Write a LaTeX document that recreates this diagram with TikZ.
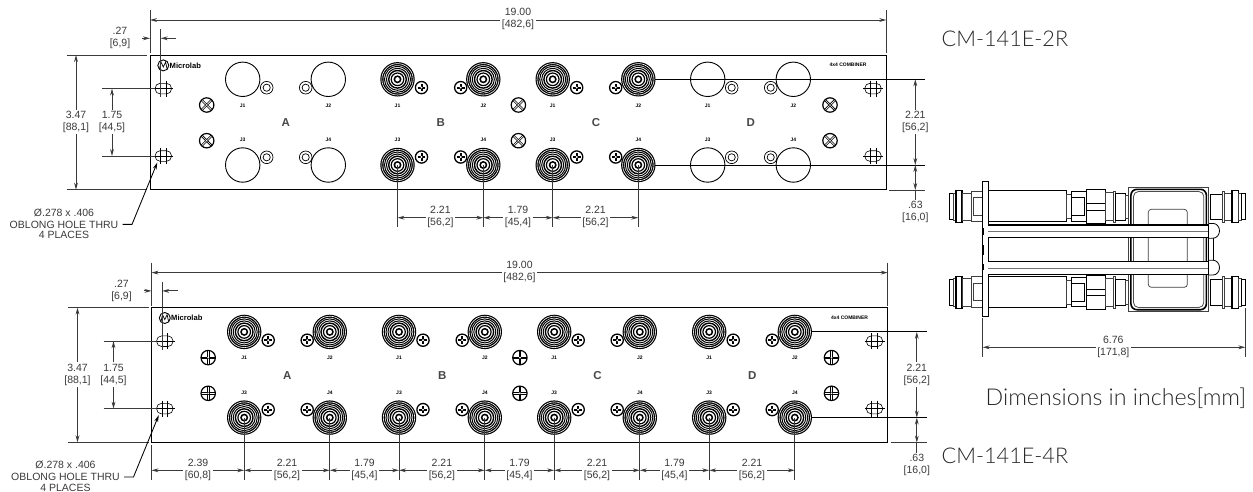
\documentclass[tikz,border=0pt]{standalone}
\usepackage{fontspec}
\setmainfont{Liberation Sans}
\newfontfamily\labfont{Lato Light}
\usetikzlibrary{arrows.meta}
\definecolor{dimc}{HTML}{3A3A3A}
\tikzset{
  dimline/.style={draw=dimc,line width=.85pt},
  dimarr/.style={dimline,{Stealth[length=7pt,width=3.8pt]}-{Stealth[length=7pt,width=3.8pt]}},
  tipend/.style={dimline,-{Stealth[length=7pt,width=3.8pt]}},
  dimtxt/.style={font=\fontsize{10.5}{12}\selectfont,text=dimc,align=center,fill=white,inner sep=1.5pt},
  plaintxt/.style={font=\fontsize{10.5}{12}\selectfont,text=dimc,align=center,inner sep=0pt},
  tinytxt/.style={font=\fontsize{5}{6}\bfseries\selectfont,inner sep=0pt},
  lettertxt/.style={font=\fontsize{11.5}{12}\bfseries\selectfont,text=black!72,inner sep=0pt},
  captxt/.style={font=\labfont\fontsize{21.7}{24}\selectfont,text=black!85,inner sep=0pt,anchor=west},
  panel/.style={draw=black,line width=.9pt},
  part/.style={draw=black,line width=.8pt,fill=white},
  thinpart/.style={draw=black!75,line width=.7pt,fill=white},
}
% coaxial connector
\newcommand{\coax}[2]{%
  \fill[black] (#1,#2) circle (17.2);
  \draw[white,line width=.6pt] (#1,#2) circle (15.7);
  \fill[white] (#1,#2) circle (14);
  \draw[black,line width=1pt] (#1,#2) circle (13);
  \draw[black,line width=1pt] (#1,#2) circle (11);
  \draw[black,line width=1.4pt] (#1,#2) circle (8.8);
  \draw[black,line width=1.2pt] (#1,#2) circle (6.3);
  \fill[black] (#1,#2) circle (4);
  \fill[white] (#1,#2) circle (2.2);
}
\newcommand{\plainc}[2]{\draw[black,line width=.9pt] (#1,#2) circle (17.2);}
\newcommand{\ringc}[2]{%
  \draw[black,line width=.7pt] (#1,#2) circle (6.3);
  \draw[black,line width=.7pt] (#1,#2) circle (3.6);
}
\newcommand{\smallscrew}[2]{%
  \draw[black,line width=1.3pt,fill=white] (#1,#2) circle (6.1);
  \draw[black,line width=2pt] (#1-3.8,#2) -- (#1+3.8,#2) (#1,#2-3.8) -- (#1,#2+3.8);
  \fill[white] (#1,#2) circle (1.1);
}
\newcommand{\bigscrew}[3]{%
  \begin{scope}[shift={(#1,#2)},rotate=#3]
  \draw[black,line width=1.2pt,fill=white] (0,0) circle (7.2);
  \draw[black,line width=.55pt] (-7,-.8) -- (7,-.8) (-7,.8) -- (7,.8) (-.8,-7) -- (-.8,7) (.8,-7) -- (.8,7);
  \fill[white] (0,0) circle (1);
  \end{scope}
}
\newcommand{\hole}[2]{%
  \draw[black,line width=.6pt,rounded corners=5pt] (#1-8.2,#2-5.3) rectangle (#1+8.2,#2+5.3);
  \draw[black,line width=.6pt] (#1-10,#2) -- (#1+10,#2) (#1-2.8,#2-8) -- (#1-2.8,#2+8) (#1+2.8,#2-8) -- (#1+2.8,#2+8);
}
% one panel with its common dimensions; #1 = rotation of the big screws
\newcommand{\panelbase}[1]{%
  \draw[panel] (150,55) rectangle (886.3,189.7);
  \hole{163.3}{88.6}\hole{163.3}{156}\hole{873}{88.6}\hole{873}{156}
  \foreach \sx in {206.7,518.4,830} {\bigscrew{\sx}{105}{#1}\bigscrew{\sx}{140.7}{#1}}
  \draw[black,line width=.9pt] (163.3,65.4) circle (5.5);
  \draw[black,line width=.7pt] (159.5,69) -- (161,62) -- (163.3,67) -- (165.6,62) -- (167.1,69);
  \node[anchor=west,font=\fontsize{7.6}{8}\bfseries\selectfont,inner sep=0pt] at (169.5,65.4) {Microlab};
  \node[tinytxt] at (848,65) {4x4 COMBINER};
  \node[lettertxt] at (285.7,123) {A};
  \node[lettertxt] at (440.7,122.7) {B};
  \node[lettertxt] at (596,122.7) {C};
  \node[lettertxt] at (750.7,123) {D};
  \foreach \cx/\ta/\tb in {242.7/J1/J3,328.3/J2/J4,397.5/J1/J3,483.3/J2/J4,552.7/J1/J3,638.3/J2/J4,707.7/J1/J3,793.3/J2/J4} {
    \node[tinytxt] at (\cx,105.3) {\ta};
    \node[tinytxt] at (\cx,140.2) {\tb};
  }
  % common dimensions
  \draw[dimline] (150,10) -- (150,53) (886.3,10) -- (886.3,53);
  \draw[dimarr] (150,20) -- (886.3,20);
  \node[dimtxt] at (518,19) {19.00\\{}[482,6]};
  \draw[dimline] (160.7,29) -- (160.7,97);
  \draw[tipend] (142,38.3) -- (150,38.3);
  \draw[tipend] (176,38.3) -- (160.7,38.3);
  \node[plaintxt] at (120,38) {.27\\{}[6,9]};
  \draw[dimline] (66.7,55) -- (147,55) (66.7,189.7) -- (147,189.7);
  \draw[dimarr] (76,55) -- (76,189.7);
  \node[dimtxt] at (76,122) {3.47\\{}[88,1]};
  \draw[dimline] (102,88.6) -- (155,88.6) (102,156) -- (155,156);
  \draw[dimarr] (112,88.6) -- (112,156);
  \node[dimtxt] at (112,122) {1.75\\{}[44,5]};
  \draw[dimline] (889,190) -- (925,190);
  \draw[dimarr] (915.3,79.3) -- (915.3,165);
  \draw[dimarr] (915.3,165) -- (915.3,190);
  \draw[dimline] (915.3,190) -- (915.3,200);
  \node[dimtxt] at (915.3,122) {2.21\\{}[56,2]};
  \node[plaintxt] at (915.3,212) {.63\\{}[16,0]};
  \draw[tipend,draw=black] (122.7,224.4) -- (132,224.4) -- (157.3,162.5);
  \node[plaintxt] at (64,223.7) {Ø.278 x .406\\OBLONG HOLE THRU\\[-1.5pt]4 PLACES};
}
\newcommand{\sideconn}{%
  \draw[part] (949,193.5) rectangle (953,219.5);
  \draw[thinpart] (953,193) rectangle (956,220.5);
  \draw[part,line width=1.2pt] (956,190.7) rectangle (962,222.7);
  \draw[thinpart] (962,193) rectangle (971,220.5);
  \draw[thinpart] (971,191) rectangle (983,221.7);
  \draw[thinpart] (973,197.7) rectangle (983,215);
  \draw[part] (988,190.7) rectangle (1066.7,221.7);
  \draw[thinpart] (1066.7,194.3) rectangle (1071,218.3);
  \draw[part] (1071,191.7) rectangle (1086.7,221);
  \draw[part] (1071,197.7) rectangle (1084.3,215.7);
  \draw[part,line width=1pt] (1086.7,189.3) rectangle (1105.7,223.7);
  \draw[black,line width=.8pt] (1086.7,203.3) -- (1105.7,203.3) (1086.7,210) -- (1105.7,210);
  \draw[thinpart] (1105.7,192.5) rectangle (1113,220.5);
  \draw[thinpart] (1113,191) rectangle (1115,222.3);
  \draw[part] (1115,193.3) rectangle (1125,220);
  \draw[thinpart] (1125,195) rectangle (1128.3,218.3);
  % right end
  \draw[part] (1210,194) rectangle (1222.7,219.3);
  \draw[thinpart] (1222.7,191) rectangle (1224,222.5);
  \draw[thinpart] (1224,193) rectangle (1232,220.5);
  \draw[part,line width=1.2pt] (1232,190.7) rectangle (1238.5,222.7);
  \draw[thinpart] (1238.5,193) rectangle (1241.5,220.5);
  \draw[part] (1241.5,193.5) rectangle (1245.5,219.5);
}
\begin{document}
\begin{tikzpicture}[x=1pt,y=-1pt]
\useasboundingbox (0,0) rectangle (1253,491);
% ---------- upper panel ----------
\draw[dimline,draw=black] (655,79.3) -- (925,79.3) (655,165) -- (925,165);
\foreach \cx in {242.7,707.7} {\plainc{\cx}{79.3}\plainc{\cx}{165}\ringc{\cx+24}{87.7}\ringc{\cx+24}{157.3}}
\foreach \cx in {328.3,793.3} {\plainc{\cx}{79.3}\plainc{\cx}{165}\ringc{\cx-22.6}{87.7}\ringc{\cx-22.6}{157.3}}
\foreach \cx in {397.5,552.7} {\coax{\cx}{79.3}\coax{\cx}{165}\smallscrew{\cx+24}{87.6}\smallscrew{\cx+24}{157}}
\foreach \cx in {483.3,638.3} {\coax{\cx}{79.3}\coax{\cx}{165}\smallscrew{\cx-22.6}{87.6}\smallscrew{\cx-22.6}{157}}
\panelbase{45}
\foreach \ex in {397.5,483.3,552.7,638.3} {\draw[dimline] (\ex,165) -- (\ex,227);}
\draw[dimarr] (397.5,217.7) -- (483.3,217.7);
\draw[dimarr] (483.3,217.7) -- (552.7,217.7);
\draw[dimarr] (552.7,217.7) -- (638.3,217.7);
\node[dimtxt] at (440.4,217.2) {2.21\\{}[56,2]};
\node[dimtxt] at (518,217.2) {1.79\\{}[45,4]};
\node[dimtxt] at (595.5,217.2) {2.21\\{}[56,2]};
% ---------- lower panel ----------
\begin{scope}[shift={(1.5,252.6)}]
\draw[dimline,draw=black] (810,79.3) -- (925,79.3) (810,165) -- (925,165);
\foreach \cx in {242.7,397.5,552.7,707.7} {\coax{\cx}{79.3}\coax{\cx}{165}\smallscrew{\cx+24}{87.6}\smallscrew{\cx+24}{157}}
\foreach \cx in {328.3,483.3,638.3,793.3} {\coax{\cx}{79.3}\coax{\cx}{165}\smallscrew{\cx-22.6}{87.6}\smallscrew{\cx-22.6}{157}}
\panelbase{0}
\draw[dimline] (150,192.5) -- (150,227.4);
\foreach \ex in {242.7,328.3,397.5,483.3,552.7,638.3,707.7,793.3} {\draw[dimline] (\ex,165) -- (\ex,227.4);}
\draw[dimarr] (150,217.7) -- (242.7,217.7);
\foreach \ea/\eb in {242.7/328.3,328.3/397.5,397.5/483.3,483.3/552.7,552.7/638.3,638.3/707.7,707.7/793.3} {\draw[dimarr] (\ea,217.7) -- (\eb,217.7);}
\node[dimtxt] at (196.5,217.2) {2.39\\{}[60,8]};
\foreach \mx/\txa/\txb in {285.5/2.21/56,363/1.79/45,440.4/2.21/56,518/1.79/45,595.5/2.21/56,673/1.79/45,750.5/2.21/56} {
  \node[dimtxt] at (\mx,217.2) {\txa\\{}[\txb,\ifnum\txb=56 2\else 4\fi]};
}
\end{scope}
% ---------- side view ----------
\sideconn
\begin{scope}[yshift=-85.7pt]\sideconn\end{scope}
\draw[draw=black!75,line width=.7pt] (1128.3,187.3) rectangle (1208.7,311.7);
\draw[draw=black,line width=1.6pt,rounded corners=6pt,fill=white] (1130.9,189.3) rectangle (1206.4,309.7);
\draw[draw=black!70,line width=.8pt,rounded corners=5pt] (1133.5,191.5) rectangle (1203.8,307.5);
\draw[draw=black!75,line width=.7pt,rounded corners=3pt] (1148.3,209.3) rectangle (1187.3,287.3);
\draw[part] (1208.7,223.4) -- (1213,223.4) arc[start angle=90,end angle=-90,x radius=6.5,y radius=-7.4] -- (1208.7,238.2);
\draw[part] (1208.7,260.2) -- (1213,260.2) arc[start angle=90,end angle=-90,x radius=6.5,y radius=-7.4] -- (1208.7,275);
\draw[black,line width=.7pt] (1213.5,238.2) -- (1213.5,260.2);
\draw[part] (982.7,181.7) rectangle (988,316.7);
\foreach \rt in {225,261.7} {
  \fill[white] (988,\rt) rectangle (1208.7,\rt+12.6);
  \draw[black,line width=1.5pt] (988,\rt) -- (1208.7,\rt);
  \draw[black!55,line width=1pt] (988,\rt+6.6) -- (1208.7,\rt+6.6);
  \draw[black,line width=.8pt] (988,\rt+12.6) -- (1208.7,\rt+12.6);
}
\draw[black,line width=.8pt] (1208.7,225) -- (1208.7,274.3);
\draw[black,line width=1.2pt] (983,228) -- (983,235) (983,245) -- (983,255) (983,264) -- (983,270);
\draw[dimline] (982.7,318) -- (982.7,356.7) (1245.3,308) -- (1245.3,356.7);
\draw[dimarr] (982.7,347.3) -- (1245.3,347.3);
\node[dimtxt] at (1113.3,346.8) {6.76\\{}[171,8]};
% ---------- captions ----------
\node[captxt] (capa) at (941.5,38.5) {CM-141E-2R};
\node[captxt] (capb) at (941.5,455.5) {CM-141E-4R};
\node[captxt,font=\labfont\fontsize{23.2}{26}\selectfont] (capc) at (985.5,398) {Dimensions in inches[mm]};
\end{tikzpicture}
\end{document}
